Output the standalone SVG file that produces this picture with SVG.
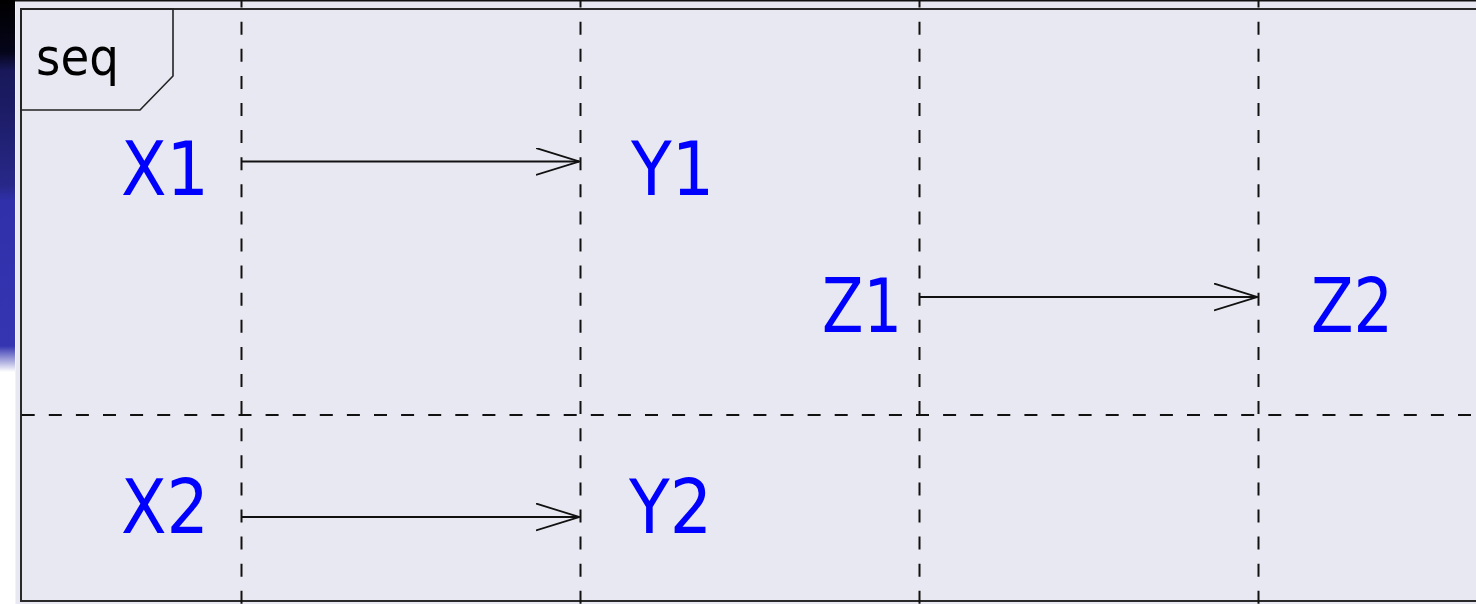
<svg xmlns="http://www.w3.org/2000/svg" width="1476" height="604" viewBox="0 0 1476 604">
  <defs>
    <linearGradient id="strip" x1="0" y1="0" x2="0" y2="1" gradientUnits="objectBoundingBox">
      <stop offset="0" stop-color="#000000"/>
      <stop offset="0.14" stop-color="#05051a"/>
      <stop offset="0.19" stop-color="#18185a"/>
      <stop offset="0.30" stop-color="#1c1c66"/>
      <stop offset="0.50" stop-color="#28288a"/>
      <stop offset="0.54" stop-color="#3030aa"/>
      <stop offset="0.93" stop-color="#3535b2"/>
      <stop offset="1" stop-color="#ffffff"/>
    </linearGradient>
    <marker id="open" viewBox="0 0 44 30" refX="43" refY="14" markerWidth="44" markerHeight="30" markerUnits="userSpaceOnUse" orient="auto">
      <polyline points="0,0.5 43,14 0,27.5" fill="none" stroke="#111" stroke-width="1.8"/>
    </marker>
    <style>
      .bg { fill: #e8e8f2; }
      .frame { fill: none; stroke: #2a2a2a; stroke-width: 2; }
      .life { stroke: #111; stroke-width: 2; stroke-dasharray: 13 14.1; fill: none; }
      .sep { stroke: #111; stroke-width: 2; stroke-dasharray: 13 14.1; fill: none; }
      .msg { stroke: #111; stroke-width: 1.8; fill: none; marker-end: url(#open); }
      .lbl { font-family: "DejaVu Sans Condensed", "DejaVu Sans", sans-serif; font-size: 74px; fill: #0000ff; }
      .tag { font-family: "DejaVu Sans Condensed", "DejaVu Sans", sans-serif; font-size: 52px; fill: #000; }
    </style>
  </defs>

  <rect x="0" y="0" width="1476" height="604" fill="#ffffff"/>
  <rect x="0" y="0" width="15" height="372" fill="url(#strip)"/>
  <rect class="bg" x="15" y="0" width="1461" height="604"/>
  <line x1="15.5" y1="0" x2="15.5" y2="604" stroke="#f2f2f8" stroke-width="1"/>
  <line x1="15" y1="0.75" x2="1476" y2="0.75" stroke="#111" stroke-width="1.5"/>

  <g id="frame">
    <rect class="frame" x="21" y="9" width="1470" height="592"/>
    <polygon points="21,9 173,9 173,76 140,110 21,110" fill="none" stroke="#222" stroke-width="1.6"/>
    <text class="tag" x="36" y="75">seq</text>
  </g>

  <g id="lifelines">
    <line class="life" x1="241.5" y1="-5.4" x2="241.5" y2="604"/>
    <line class="life" x1="580.5" y1="-5.4" x2="580.5" y2="604"/>
    <line class="life" x1="919.5" y1="-5.4" x2="919.5" y2="604"/>
    <line class="life" x1="1258.5" y1="-5.4" x2="1258.5" y2="604"/>
    <line class="sep" x1="21.7" y1="415" x2="1476" y2="415"/>
  </g>

  <g id="X1"><text class="lbl" x="121" y="195">X1</text></g>
  <g id="Y1"><text class="lbl" x="631" y="195">Y1</text></g>
  <g id="Z1"><text class="lbl" x="822" y="332" textLength="80" lengthAdjust="spacingAndGlyphs">Z1</text></g>
  <g id="Z2"><text class="lbl" x="1311" y="332" textLength="82" lengthAdjust="spacingAndGlyphs">Z2</text></g>
  <g id="X2"><text class="lbl" x="121" y="533">X2</text></g>
  <g id="Y2"><text class="lbl" x="629" y="533">Y2</text></g>

  <g id="connectors">
    <line class="msg" x1="242" y1="161.5" x2="579" y2="161.5"/>
    <line class="msg" x1="920" y1="297" x2="1257" y2="297"/>
    <line class="msg" x1="242" y1="517" x2="579" y2="517"/>
  </g>
</svg>
